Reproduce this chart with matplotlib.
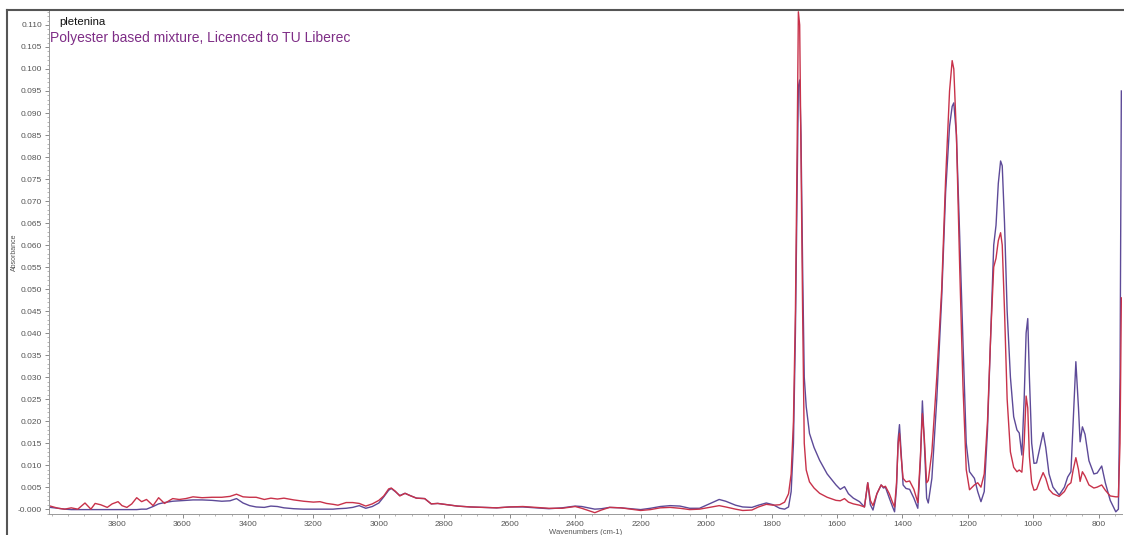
import numpy as np
import matplotlib.pyplot as plt
from matplotlib.lines import Line2D
from matplotlib.ticker import MultipleLocator

# wavenumber (cm-1), absorbance of the red and purple spectra
wavenumber = [
    4004, 3980, 3960, 3940, 3920, 3898, 3880, 3867, 3850, 3830,
    3815, 3797, 3785, 3770, 3755, 3740, 3725, 3710, 3690, 3673,
    3655, 3630, 3610, 3590, 3568, 3540, 3510, 3480, 3455, 3435,
    3415, 3395, 3375, 3350, 3330, 3310, 3290, 3260, 3230, 3200,
    3180, 3160, 3140, 3125, 3100, 3080, 3060, 3040, 3020, 3000,
    2985, 2970, 2962, 2950, 2936, 2920, 2905, 2885, 2860, 2840,
    2820, 2800, 2760, 2720, 2680, 2640, 2600, 2560, 2520, 2480,
    2440, 2400, 2380, 2360, 2340, 2320, 2295, 2260, 2230, 2200,
    2170, 2140, 2110, 2080, 2050, 2020, 1990, 1960, 1940, 1910,
    1888, 1860, 1840, 1816, 1795, 1775, 1760, 1748, 1740, 1733,
    1727, 1722, 1718, 1714, 1710, 1705, 1700, 1694, 1684, 1670,
    1653, 1630, 1603, 1590, 1577, 1565, 1550, 1531, 1516, 1506,
    1498, 1490, 1478, 1465, 1458, 1452, 1440, 1430, 1424, 1418,
    1413, 1409, 1404, 1398, 1389, 1378, 1365, 1353, 1345, 1339,
    1333, 1326, 1321, 1310, 1295, 1280, 1268, 1256, 1248, 1243,
    1235, 1225, 1215, 1205, 1195, 1180, 1170, 1160, 1150, 1140,
    1130, 1121, 1114, 1107, 1100, 1095, 1088, 1080, 1070, 1060,
    1050, 1043, 1035, 1028, 1022, 1017, 1012, 1005, 998, 990,
    980, 970, 962, 952, 940, 921, 905, 895, 885, 878,
    870, 862, 857, 850, 842, 830, 815, 805, 791, 780,
    765, 748, 740, 735, 731,
]

absorb_red = [
    0.0007, 0.0002, 0.0000, 0.0003, 0.0000, 0.0014, 0.0000, 0.0013, 0.0010, 0.0004,
    0.0012, 0.0017, 0.0008, 0.0004, 0.0012, 0.0026, 0.0017, 0.0022, 0.0008, 0.0026,
    0.0013, 0.0024, 0.0022, 0.0024, 0.0028, 0.0026, 0.0027, 0.0027, 0.0029, 0.0034,
    0.0028, 0.0027, 0.0027, 0.0022, 0.0025, 0.0023, 0.0025, 0.0021, 0.0018, 0.0016,
    0.0017, 0.0013, 0.0011, 0.0009, 0.0015, 0.0015, 0.0013, 0.0007, 0.0012, 0.0020,
    0.0030, 0.0046, 0.0048, 0.0041, 0.0030, 0.0036, 0.0031, 0.0025, 0.0024, 0.0012,
    0.0013, 0.0011, 0.0007, 0.0005, 0.0004, 0.0003, 0.0005, 0.0006, 0.0004, 0.0002,
    0.0002, 0.0006, 0.0002, -0.0003, -0.0008, -0.0002, 0.0004, 0.0003, 0.0000, -0.0003,
    -0.0001, 0.0003, 0.0004, 0.0002, -0.0001, 0.0000, 0.0004, 0.0008, 0.0005, 0.0000,
    -0.0003, -0.0002, 0.0005, 0.0011, 0.0009, 0.0010, 0.0016, 0.0035, 0.0080, 0.0200,
    0.0450, 0.0800, 0.1130, 0.1100, 0.0800, 0.0450, 0.0150, 0.0089, 0.0062, 0.0048,
    0.0036, 0.0027, 0.0020, 0.0019, 0.0024, 0.0016, 0.0012, 0.0009, 0.0005, 0.0060,
    0.0020, 0.0008, 0.0035, 0.0055, 0.0050, 0.0052, 0.0035, 0.0015, 0.0005, 0.0060,
    0.0150, 0.0172, 0.0120, 0.0070, 0.0062, 0.0064, 0.0045, 0.0015, 0.0120, 0.0217,
    0.0160, 0.0060, 0.0065, 0.0130, 0.0300, 0.0500, 0.0750, 0.0950, 0.1019, 0.1000,
    0.0850, 0.0550, 0.0280, 0.0090, 0.0044, 0.0055, 0.0060, 0.0050, 0.0080, 0.0200,
    0.0400, 0.0550, 0.0570, 0.0610, 0.0628, 0.0600, 0.0450, 0.0250, 0.0130, 0.0095,
    0.0085, 0.0089, 0.0084, 0.0150, 0.0257, 0.0230, 0.0120, 0.0060, 0.0043, 0.0045,
    0.0065, 0.0083, 0.0070, 0.0045, 0.0035, 0.0029, 0.0040, 0.0054, 0.0060, 0.0090,
    0.0117, 0.0090, 0.0063, 0.0085, 0.0075, 0.0055, 0.0048, 0.0050, 0.0055, 0.0043,
    0.0030, 0.0028, 0.0028, 0.0150, 0.0480,
]

absorb_blue = [
    0.0004, 0.0002, 0.0000, -0.0001, -0.0001, -0.0001, -0.0001, -0.0001, -0.0001, -0.0001,
    -0.0001, -0.0001, -0.0001, -0.0001, -0.0001, -0.0001, 0.0000, 0.0000, 0.0006, 0.0012,
    0.0015, 0.0018, 0.0019, 0.0020, 0.0021, 0.0021, 0.0020, 0.0018, 0.0019, 0.0024,
    0.0014, 0.0008, 0.0005, 0.0004, 0.0007, 0.0006, 0.0003, 0.0001, 0.0000, 0.0000,
    0.0000, 0.0000, 0.0000, 0.0001, 0.0002, 0.0004, 0.0008, 0.0002, 0.0006, 0.0014,
    0.0028, 0.0043, 0.0047, 0.0040, 0.0031, 0.0036, 0.0031, 0.0025, 0.0024, 0.0012,
    0.0013, 0.0011, 0.0007, 0.0005, 0.0004, 0.0003, 0.0005, 0.0005, 0.0003, 0.0001,
    0.0003, 0.0007, 0.0006, 0.0003, 0.0000, 0.0001, 0.0004, 0.0003, 0.0001, -0.0001,
    0.0002, 0.0006, 0.0008, 0.0007, 0.0002, 0.0002, 0.0012, 0.0022, 0.0018, 0.0009,
    0.0005, 0.0004, 0.0009, 0.0014, 0.0010, 0.0002, 0.0000, 0.0005, 0.0040, 0.0150,
    0.0400, 0.0700, 0.0960, 0.0975, 0.0850, 0.0550, 0.0300, 0.0233, 0.0172, 0.0140,
    0.0111, 0.0080, 0.0055, 0.0045, 0.0051, 0.0035, 0.0025, 0.0017, 0.0005, 0.0060,
    0.0010, -0.0002, 0.0035, 0.0055, 0.0048, 0.0050, 0.0025, 0.0005, -0.0006, 0.0050,
    0.0160, 0.0192, 0.0130, 0.0055, 0.0047, 0.0045, 0.0025, 0.0002, 0.0110, 0.0246,
    0.0150, 0.0025, 0.0014, 0.0070, 0.0250, 0.0480, 0.0720, 0.0870, 0.0915, 0.0923,
    0.0850, 0.0620, 0.0380, 0.0150, 0.0085, 0.0070, 0.0040, 0.0017, 0.0040, 0.0180,
    0.0400, 0.0600, 0.0645, 0.0740, 0.0791, 0.0780, 0.0650, 0.0450, 0.0300, 0.0210,
    0.0180, 0.0173, 0.0123, 0.0250, 0.0400, 0.0433, 0.0300, 0.0150, 0.0104, 0.0105,
    0.0140, 0.0174, 0.0140, 0.0080, 0.0050, 0.0032, 0.0050, 0.0073, 0.0085, 0.0200,
    0.0335, 0.0230, 0.0153, 0.0187, 0.0170, 0.0110, 0.0080, 0.0082, 0.0098, 0.0060,
    0.0020, -0.0006, 0.0000, 0.0300, 0.0950,
]

x_ticks = [3800, 3600, 3400, 3200, 3000, 2800, 2600, 2400, 2200, 2000, 1800, 1600, 1400, 1200, 1000, 800]
y_ticks = [round(0.005 * i, 3) for i in range(23)]
y_labels = ["-0.000"] + [f"{v:.3f}" for v in y_ticks[1:]]

plt.rcParams['font.family'] = ['Liberation Sans', 'DejaVu Sans']

W, H = 1124, 535
fig = plt.figure(figsize=(W / 100, H / 100), dpi=100)
ax = fig.add_axes([49 / W, 1 - 514 / H, 1073 / W, 504 / H])

ax.plot(wavenumber, absorb_blue, color='#5d4a98', lw=1.0)
ax.plot(wavenumber, absorb_red, color='#c8324a', lw=1.0)

ax.set_xlim(4008, 729)
ax.set_ylim(-0.0011, 0.1134)

ax.set_xticks(x_ticks)
ax.set_yticks(y_ticks)
ax.set_yticklabels(y_labels)
ax.xaxis.set_minor_locator(MultipleLocator(50))
ax.yaxis.set_minor_locator(MultipleLocator(0.001))
ax.tick_params(axis='both', which='major', labelsize=6, length=3, width=0.6,
               color='#777777', labelcolor='#555555', pad=2)
ax.tick_params(axis='both', which='minor', length=1.5, width=0.5, color='#999999')

for side in ['right', 'top']:
    ax.spines[side].set_visible(False)
for side in ['left', 'bottom']:
    ax.spines[side].set_color('#999999')
    ax.spines[side].set_linewidth(0.7)

ax.set_ylabel("Absorbance", fontsize=5, color='#555555')
ax.yaxis.set_label_coords(-31 / 1073, 0.52)
ax.set_xlabel("Wavenumbers (cm-1)", fontsize=5.5, color='#555555', labelpad=1)

fig.text(59 / W, 1 - 22 / H, "pletenina", fontsize=8.2, color='#111111',
         va='center', ha='left')
fig.text(50 / W, 1 - 38 / H, "Polyester based mixture, Licenced to TU Liberec",
         fontsize=10, color='#7e2d86', va='center', ha='left')

# outer frame lines (top and left)
fig.add_artist(Line2D([7 / W, 1], [1 - 10 / H, 1 - 10 / H],
                      transform=fig.transFigure, color='#555555', lw=1.5))
fig.add_artist(Line2D([7 / W, 7 / W], [0, 1 - 10 / H],
                      transform=fig.transFigure, color='#555555', lw=1.5))

fig.savefig("out.png", dpi=100)
